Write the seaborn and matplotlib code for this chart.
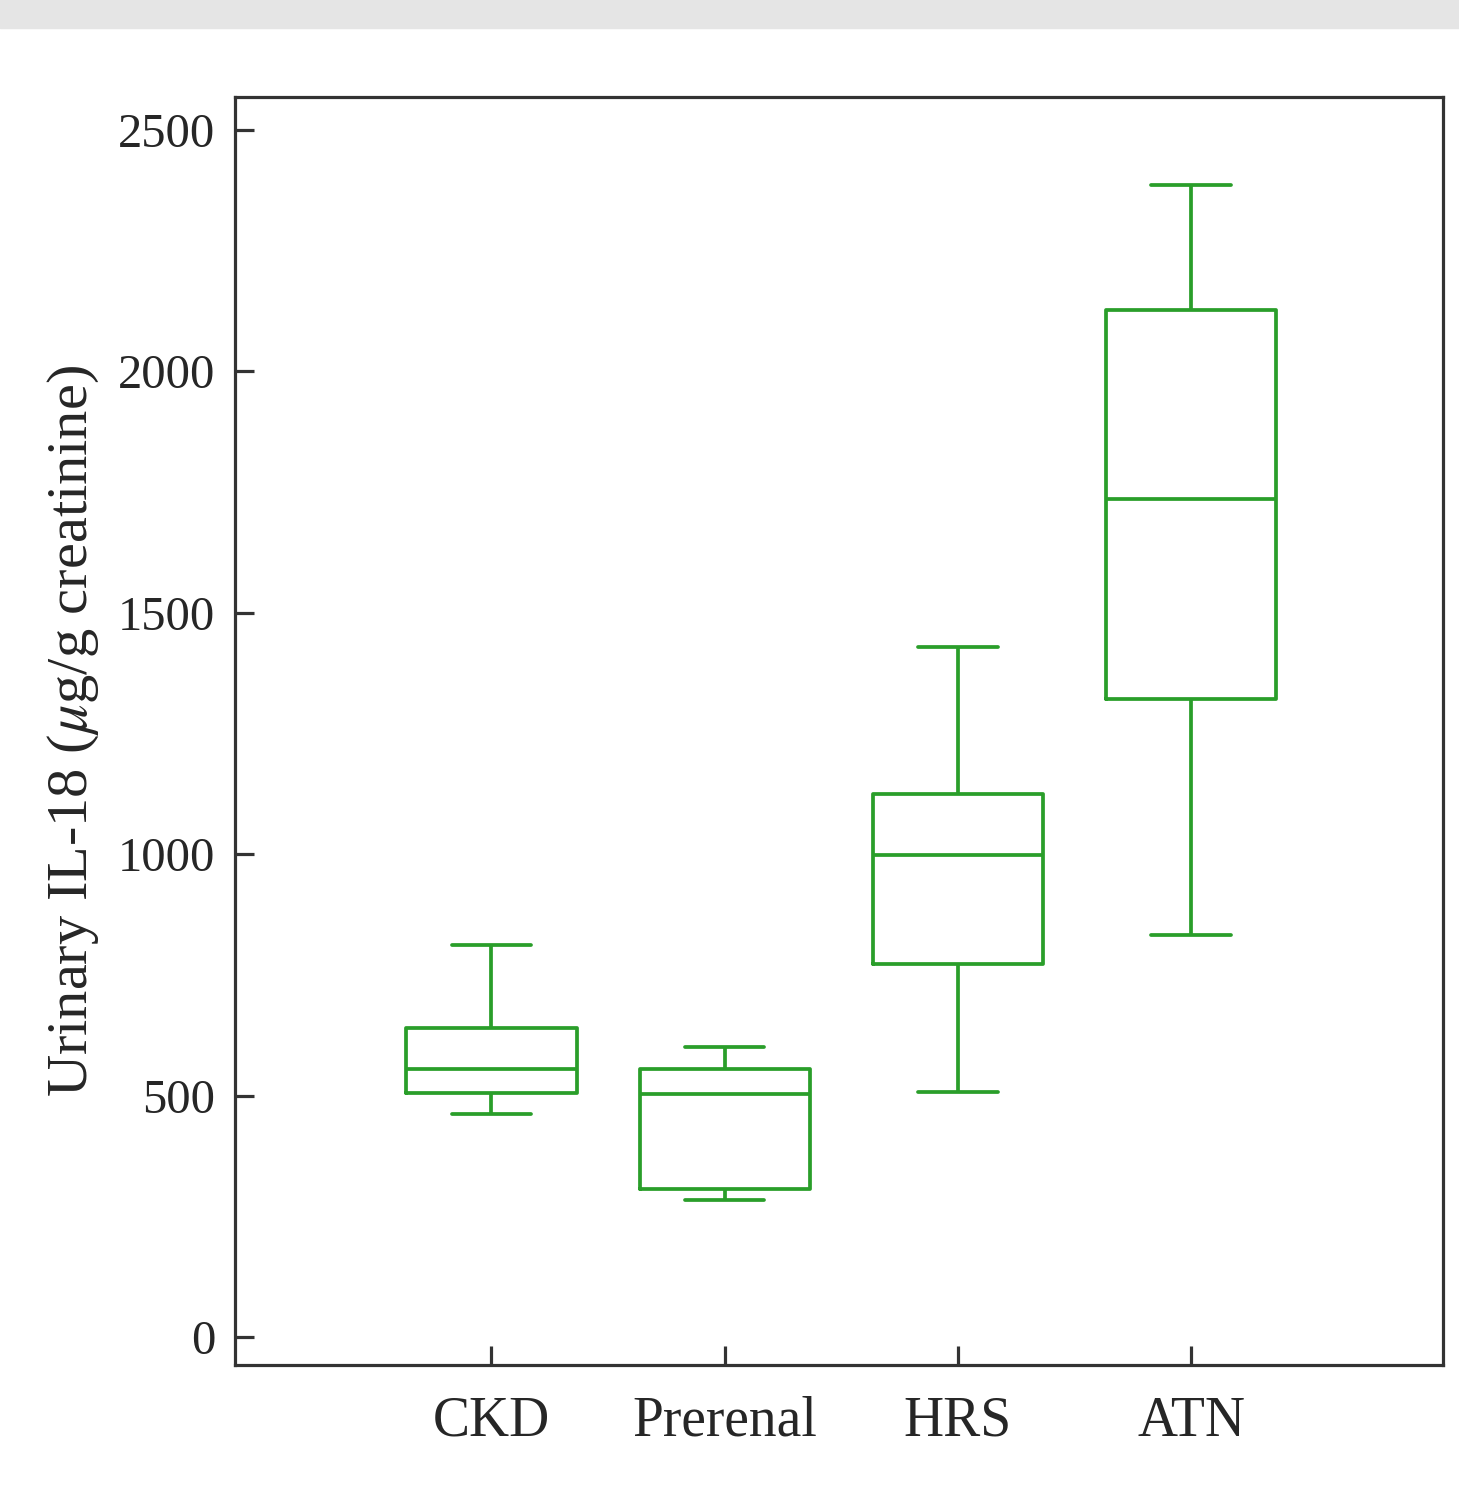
import pandas as pd
import numpy as np
import seaborn as sns
import matplotlib.pyplot as plt
from matplotlib.patches import Rectangle

# Five-number summaries (min, Q1, median, Q3, max)
groups = ['CKD', 'Prerenal', 'HRS', 'ATN']
ckd = [462, 505, 555, 640, 812]
prerenal = [284, 307, 503, 555, 601]
hrs = [507, 773, 998, 1125, 1429]
atn = [833, 1321, 1736, 2127, 2386]
y_ticks = [0, 500, 1000, 1500, 2000, 2500]

values = [ckd, prerenal, hrs, atn]
df = pd.DataFrame({
    'Group': [g for g, v in zip(groups, values) for _ in v],
    'IL18': [x for v in values for x in v],
})

sns.set_style("white")
plt.rcParams['font.family'] = ['Liberation Serif', 'DejaVu Serif']
plt.rcParams['mathtext.fontset'] = 'stix'

fig = plt.figure(figsize=(14.59, 14.93), dpi=100)
ax = fig.add_axes([0.161, 0.0857, 0.828, 0.8493])

# gray strip across the top
fig.patches.append(Rectangle((0, 1 - 28 / 1493), 1, 28 / 1493,
                             transform=fig.transFigure, color='#e5e5e5', zorder=0))

green = '#2a9e2a'
sns.boxplot(data=df, x='Group', y='IL18', order=groups, ax=ax,
            whis=(0, 100), fill=False, color=green, width=0.73,
            linewidth=2.7, capwidths=0.34, showfliers=False)

ax.set_xlim(-1.1, 4.08)
ax.set_ylim(-58, 2568)
ax.set_yticks(y_ticks)
ax.set_yticklabels([str(t) for t in y_ticks])

for s in ax.spines.values():
    s.set_visible(True)
    s.set_color('#333333')
    s.set_linewidth(2.3)

ax.tick_params(axis='both', direction='in', length=14, width=2.3, color='#333333')
ax.tick_params(axis='y', labelsize=35, pad=14, left=True)
ax.tick_params(axis='x', labelsize=40, pad=22, bottom=True)

ax.set_xlabel('')
ax.set_ylabel('Urinary IL-18 ($\\mu$g/g creatinine)', fontsize=42, labelpad=12)

plt.savefig('out.png', dpi=100)
plt.close()
